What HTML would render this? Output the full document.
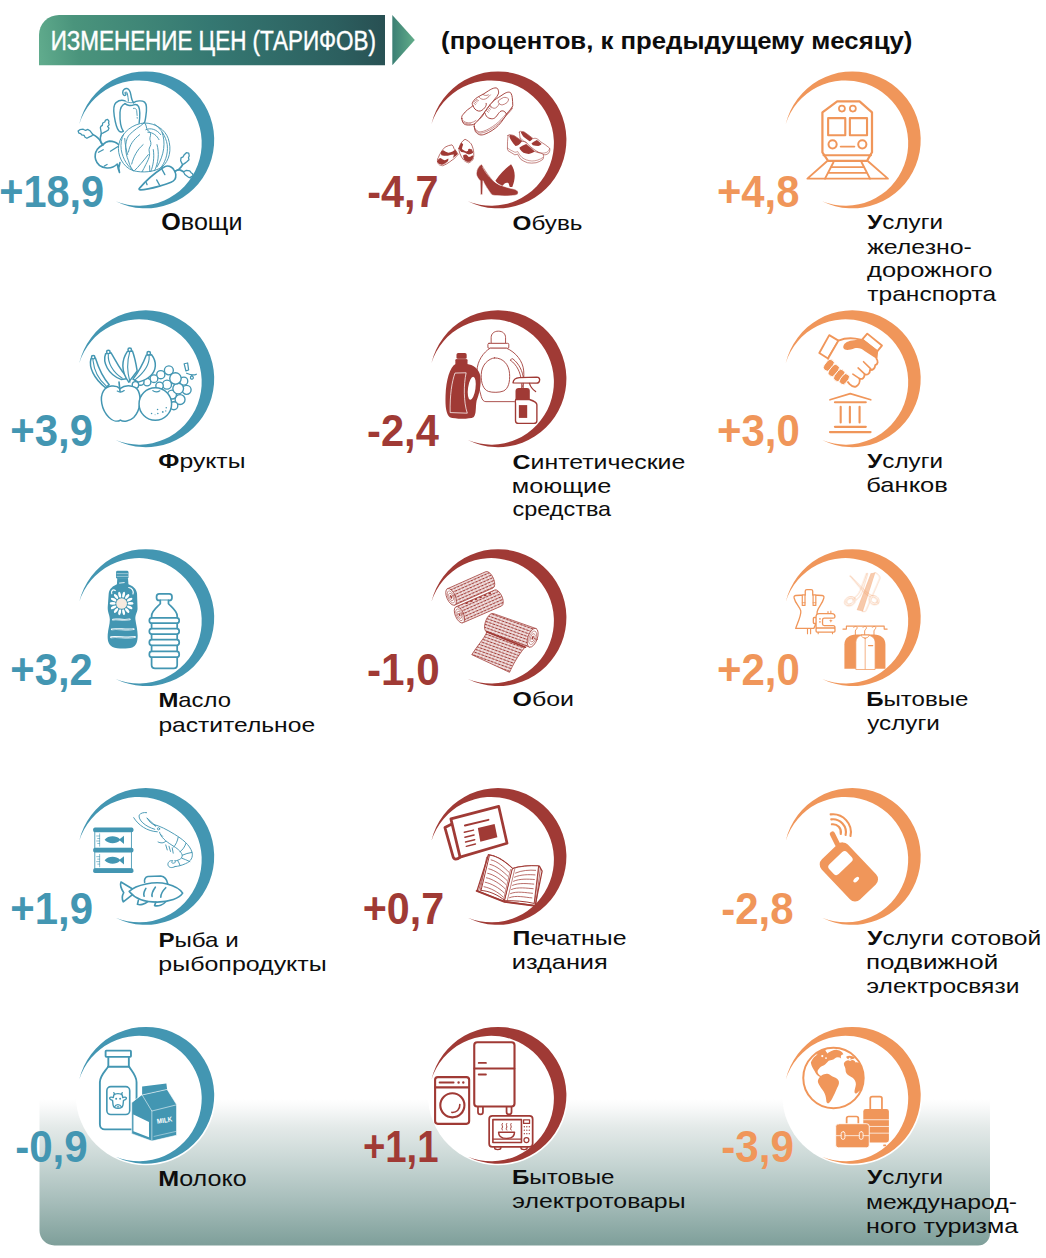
<!DOCTYPE html>
<html lang="ru"><head><meta charset="utf-8"><title>Изменение цен (тарифов)</title>
<style>
html,body{margin:0;padding:0;background:#fff;}
body{width:1046px;height:1258px;overflow:hidden;font-family:"Liberation Sans",sans-serif;}
svg{display:block;}
text{font-family:"Liberation Sans",sans-serif;}
.num{font-weight:bold;}
.lab{fill:#0d0d0d;}
.b{font-weight:bold;}
</style></head><body>
<svg width="1046" height="1258" viewBox="0 0 1046 1258">
<defs>
<linearGradient id="hdr" gradientUnits="userSpaceOnUse" x1="39" y1="70" x2="385" y2="10"><stop offset="0" stop-color="#62ad8e"/><stop offset="0.12" stop-color="#4a947c"/><stop offset="0.5" stop-color="#357872"/><stop offset="0.85" stop-color="#2c5f5f"/><stop offset="1" stop-color="#284f52"/></linearGradient>
<linearGradient id="arr" x1="0" y1="0" x2="1" y2="0"><stop offset="0" stop-color="#3b7f74"/><stop offset="1" stop-color="#62ad8a"/></linearGradient>
<linearGradient id="bot" x1="0" y1="0" x2="0" y2="1"><stop offset="0" stop-color="#ffffff"/><stop offset="0.06" stop-color="#f8f9f9"/><stop offset="0.19" stop-color="#e4eae9"/><stop offset="0.45" stop-color="#c5d4d2"/><stop offset="0.71" stop-color="#a5bcb9"/><stop offset="0.97" stop-color="#82a29d"/><stop offset="1" stop-color="#7f9f9a"/></linearGradient>
</defs>
<rect width="1046" height="1258" fill="#fff"/>
<path d="M39.5 1099 H990 V1233.5 a12 12 0 0 1 -12 12 H54.5 a15 15 0 0 1 -15 -15 Z" fill="url(#bot)"/>
<path d="M39 65.2 V35 a20 20 0 0 1 20 -20 H385 V65.2 Z" fill="url(#hdr)"/>
<path d="M392.3 15 L414.8 40.1 L392.3 65.2 Z" fill="url(#arr)"/>
<text x="50.66" y="49.6" font-size="27" fill="#fff" stroke="#fff" stroke-width="0.45" textLength="325.32" lengthAdjust="spacingAndGlyphs">ИЗМЕНЕНИЕ ЦЕН (ТАРИФОВ)</text>
<text x="441.12" y="49.1" font-size="24.2" font-weight="bold" fill="#0d0d0d" textLength="471.26" lengthAdjust="spacingAndGlyphs">(процентов, к предыдущему месяцу)</text>
<g id="cell-0-0">
<path fill="#4396b2" d="M79.26 124.08 A68.4 68.4 0 1 1 115.58 201.26 A62.7 62.7 0 1 0 79.26 124.08 Z"/>
<g class="icon">
<g transform="translate(75,80) scale(0.124285)" fill="none" stroke="#4396b2" stroke-linecap="round" stroke-linejoin="round">
<!-- pepper -->
<g stroke-width="11.5">
<path d="M472 182 C458 168 454 150 450 122 C446 96 440 72 418 68 C400 66 384 80 384 100 C384 118 396 128 406 122 C414 116 410 102 402 104" />
<path d="M430 170 C428 150 426 130 422 112 C420 100 414 92 408 96" stroke-width="8"/>
<path d="M402 168 C380 160 350 166 330 182 C308 202 308 240 316 290 C324 340 336 390 352 408 C364 420 380 420 388 412"/>
<path d="M402 190 C380 200 364 222 362 262 C360 320 366 380 388 412"/>
<path d="M402 190 C420 206 452 210 472 200 C488 194 504 200 512 214 C524 240 522 300 516 348"/>
<path d="M472 182 C492 166 540 162 560 178 C580 196 578 240 570 290 C566 320 562 340 556 350"/>
<path d="M402 168 C412 180 440 186 472 182" stroke-width="7"/>
<path d="M470 228 C486 226 494 232 496 246 L500 286 M500 300 L501 308" stroke-width="7"/>
</g>
<!-- cabbage -->
<g stroke-width="7.5">
<path d="M556 346 C470 350 372 420 352 520 C338 600 380 700 470 730 C540 748 640 742 700 700 C760 650 780 560 750 470 C724 400 650 345 556 346 Z" fill="#fff"/>
<path d="M556 346 C520 380 470 400 430 450 C400 500 400 580 430 650 C440 690 456 716 470 730"/>
<path d="M470 730 C430 700 384 640 372 560 C366 520 372 470 392 436"/>
<path d="M400 470 C404 520 410 560 424 600"/>
<path d="M520 440 C470 480 440 520 430 580"/>
<path d="M548 520 C500 560 470 620 456 676"/>
<path d="M590 600 C550 650 510 700 480 728"/>
<path d="M566 352 C580 380 572 400 590 410 C610 420 612 440 604 460 C596 484 616 496 610 520 C604 540 590 552 598 580 C606 610 590 640 570 680 C560 700 548 724 540 738"/>
<path d="M570 400 C610 380 660 400 690 440"/>
<path d="M586 420 C630 420 660 450 676 480"/>
<path d="M640 356 C690 390 730 450 742 520 C752 600 720 670 690 706"/>
<path d="M700 420 C730 500 720 600 660 700"/>
<path d="M630 560 C640 620 630 690 610 736"/>
<path d="M660 520 C680 590 670 670 640 730"/>
<path d="M600 690 L602 736"/>
</g>
<!-- radish -->
<g stroke-width="13">
<path d="M350 519 C330 500 300 492 277 492 C255 494 236 508 223 523 C205 530 190 544 178 560 C162 584 158 612 166 640 C176 676 210 704 256 708 C290 710 320 696 340 676 C344 700 350 724 358 744 C350 720 352 690 362 664" />
<path d="M189 581 L227 561 M285 573 L346 535 M236 692 L258 680" stroke-width="10.5"/>
<path d="M143 438 C170 450 196 474 208 496 C214 506 220 514 223 523"/>
<path d="M212 431 C204 450 202 474 206 494 C210 506 216 516 223 523"/>
<path d="M143 438 L123 411 L104 398 L85 406 L66 396 L39 400 L25 411 L31 427 L46 431 L54 442 L73 446 L81 461 L96 469 L116 458 L135 450 Z" stroke-width="10.5"/>
<path d="M212 431 L204 384 L208 373 L220 365 L223 346 L239 338 L246 323 L262 317 L273 331 L270 346 L275 361 L262 373 L273 388 L266 404 L246 415 L223 427 Z" stroke-width="10.5"/>
</g>
<!-- carrot -->
<g stroke-width="13">
<path d="M518 872 C560 822 640 750 704 708 C716 700 730 692 742 692 C754 692 764 694 773 700 C784 706 792 714 796 723 C804 736 810 748 811 761 C812 776 810 790 803 800 C796 812 786 818 773 823 C744 834 712 844 680 854 C630 868 570 884 528 884 C516 884 512 878 518 872 Z" fill="#fff"/>
<path d="M700 719 L723 761 M657 804 L680 846 M574 826 L580 842" stroke-width="10.5"/>
<path d="M803 735 C816 728 826 724 834 719 C848 708 858 696 865 684"/>
<path d="M803 735 C818 726 832 722 842 723 C854 726 864 732 873 738"/>
<path d="M865 681 L850 650 L853 627 L869 619 L877 604 L896 585 L915 588 L919 611 L913 623 L917 642 L900 658 L880 673 Z" stroke-width="10.5"/>
<path d="M873 738 L896 727 L923 731 L934 746 L946 754 L950 773 L934 777 L930 788 L911 781 L900 773 L884 761 Z" stroke-width="10.5"/>
</g>
</g>

</g>
<text class="num" x="-0.74" y="206.8" font-size="44.0" fill="#4396b2" textLength="104.78" lengthAdjust="spacingAndGlyphs">+18,9</text>
<text class="lab" x="161.37" y="230.4" font-size="23.0" textLength="81.16" lengthAdjust="spacingAndGlyphs"><tspan class="b">О</tspan>вощи</text>
</g>
<g id="cell-0-1">
<path fill="#4396b2" d="M79.26 362.93 A68.4 68.4 0 1 1 115.58 440.11 A62.7 62.7 0 1 0 79.26 362.93 Z"/>
<g class="icon">
<g transform="translate(80,320) scale(0.124285)" fill="#fff" stroke="#4396b2" stroke-width="12" stroke-linecap="round" stroke-linejoin="round">
<!-- grapes -->
<g stroke-width="11">
<circle cx="835" cy="492" r="32"/><circle cx="858" cy="562" r="36"/>
<circle cx="715" cy="405" r="36"/><circle cx="650" cy="440" r="33"/><circle cx="595" cy="472" r="31"/>
<circle cx="540" cy="500" r="30"/><circle cx="486" cy="496" r="29"/><circle cx="446" cy="522" r="26"/>
<circle cx="700" cy="520" r="36"/><circle cx="640" cy="530" r="30"/>
<circle cx="805" cy="640" r="40"/><circle cx="755" cy="690" r="32"/>
<circle cx="740" cy="600" r="36"/>
<circle cx="790" cy="552" r="43"/><circle cx="768" cy="470" r="46"/>
<path d="M838 352 L866 346 L874 402 L852 410 Z" stroke-width="10"/>
<path d="M858 428 C888 442 918 446 936 436 M898 446 C882 458 888 480 904 476 C916 472 914 456 902 452" fill="none" stroke-width="10"/>
</g>
<!-- bananas -->
<path d="M88 312 C70 380 110 470 205 545 L235 520 C190 470 150 390 124 306 Z"/>
<path d="M104 322 C112 400 150 480 212 532" fill="none" stroke-width="9"/>
<circle cx="106" cy="300" r="14"/>
<path d="M206 272 C180 340 226 440 330 478 L390 470 C330 420 290 330 250 264 Z"/>
<path d="M228 278 C222 340 262 420 340 468" fill="none" stroke-width="9"/>
<circle cx="228" cy="258" r="14"/>
<path d="M380 254 C336 320 326 410 392 500 L460 410 C452 360 440 300 422 250 Z"/>
<path d="M400 258 C378 330 380 420 402 500" fill="none" stroke-width="9"/>
<circle cx="400" cy="240" r="14"/>
<path d="M534 282 C504 360 470 420 426 476 L470 500 C540 480 600 440 606 370 C608 340 596 306 576 280 Z"/>
<path d="M556 288 C562 350 520 420 440 484" fill="none" stroke-width="9"/>
<circle cx="553" cy="268" r="14"/>
<!-- apple -->
<path d="M322 552 C290 520 218 522 188 572 C158 622 170 722 232 782 C262 812 300 822 325 805 C350 822 400 815 432 785 C486 730 496 630 470 572 C450 525 368 516 322 552 Z"/>
<path d="M322 575 L314 500" fill="none" stroke-width="13"/>
<path d="M300 572 C315 582 340 580 356 568" fill="none" stroke-width="10"/>
<!-- orange -->
<circle cx="606" cy="676" r="131"/>
<path d="M586 568 C600 582 626 582 642 570" fill="none" stroke-width="10"/>
<g fill="#4396b2" stroke="none"><circle cx="576" cy="752" r="6"/><circle cx="624" cy="720" r="6"/><circle cx="626" cy="752" r="6"/><circle cx="666" cy="740" r="7"/><circle cx="694" cy="706" r="6"/><circle cx="690" cy="732" r="5"/><circle cx="604" cy="762" r="4"/></g>
</g>

</g>
<text class="num" x="10.34" y="445.5" font-size="44.0" fill="#4396b2" textLength="82.71" lengthAdjust="spacingAndGlyphs">+3,9</text>
<text class="lab" x="158.34" y="468.3" font-size="20.6" textLength="87.07" lengthAdjust="spacingAndGlyphs"><tspan class="b">Ф</tspan>рукты</text>
</g>
<g id="cell-0-2">
<path fill="#4396b2" d="M79.26 601.78 A68.4 68.4 0 1 1 115.58 678.96 A62.7 62.7 0 1 0 79.26 601.78 Z"/>
<g class="icon">
<g transform="translate(80,555) scale(0.124285)" stroke-linecap="round" stroke-linejoin="round">
<!-- filled bottle -->
<g fill="#4396b2" stroke="none">
<rect x="290" y="126" width="100" height="66" rx="12"/>
<path d="M300 188 L386 188 L390 236 C424 250 454 270 459 310 L463 430 C463 462 441 482 446 520 C451 560 464 600 464 650 C464 702 450 732 420 744 C380 757 300 757 262 740 C230 724 220 690 223 640 C226 590 240 560 240 520 C240 482 221 462 223 420 L231 310 C235 270 268 250 297 236 Z"/>
</g>
<g fill="#fff" stroke="none"><ellipse cx="407.0" cy="390.0" rx="24" ry="11" transform="rotate(0.0 407.0 390.0)"/><ellipse cx="399.9" cy="421.2" rx="24" ry="11" transform="rotate(25.7 399.9 421.2)"/><ellipse cx="379.9" cy="446.3" rx="24" ry="11" transform="rotate(51.4 379.9 446.3)"/><ellipse cx="351.0" cy="460.2" rx="24" ry="11" transform="rotate(77.1 351.0 460.2)"/><ellipse cx="319.0" cy="460.2" rx="24" ry="11" transform="rotate(102.9 319.0 460.2)"/><ellipse cx="290.1" cy="446.3" rx="24" ry="11" transform="rotate(128.6 290.1 446.3)"/><ellipse cx="270.1" cy="421.2" rx="24" ry="11" transform="rotate(154.3 270.1 421.2)"/><ellipse cx="263.0" cy="390.0" rx="24" ry="11" transform="rotate(180.0 263.0 390.0)"/><ellipse cx="270.1" cy="358.8" rx="24" ry="11" transform="rotate(205.7 270.1 358.8)"/><ellipse cx="290.1" cy="333.7" rx="24" ry="11" transform="rotate(231.4 290.1 333.7)"/><ellipse cx="319.0" cy="319.8" rx="24" ry="11" transform="rotate(257.1 319.0 319.8)"/><ellipse cx="351.0" cy="319.8" rx="24" ry="11" transform="rotate(282.9 351.0 319.8)"/><ellipse cx="379.9" cy="333.7" rx="24" ry="11" transform="rotate(308.6 379.9 333.7)"/><ellipse cx="399.9" cy="358.8" rx="24" ry="11" transform="rotate(334.3 399.9 358.8)"/></g>
<circle cx="335" cy="390" r="43" fill="#f8eadf"/>
<g fill="none" stroke="#fff" stroke-width="9">
<path d="M298 150 L384 150 M298 172 L384 172" stroke-width="5" stroke="#cfe3ea"/>
<path d="M318 226 L356 222" stroke-width="7"/>
<path d="M256 312 C248 290 264 272 284 286"/>
<path d="M392 262 C420 266 434 290 426 314"/>
<path d="M266 520 C300 510 340 530 400 518" stroke-width="15"/>
<path d="M256 598 C300 590 380 606 432 596" stroke-width="15"/>
<path d="M250 662 C300 654 380 672 442 660" stroke-width="15"/>
</g>
<g fill="none" stroke="#4396b2" stroke-width="4">
<path d="M270 522 C300 514 340 532 396 520"/><path d="M262 600 C300 594 380 608 426 598"/><path d="M256 664 C300 658 380 674 436 662"/>
</g>
<!-- outline bottle -->
<g fill="#fff" stroke="#4396b2" stroke-width="14">
<rect x="616" y="313" width="124" height="52" rx="22"/>
<path d="M646 366 L646 392 C620 420 576 450 576 490 L576 885 C576 902 588 912 604 912 L754 912 C770 912 782 902 782 885 L782 490 C782 450 738 420 712 392 L712 366"/>
<rect x="558" y="505" width="240" height="44" rx="20"/>
<rect x="558" y="592" width="240" height="44" rx="20"/>
<rect x="558" y="681" width="240" height="46" rx="20"/>
<rect x="558" y="776" width="240" height="46" rx="20"/>
</g>
</g>
</g>
<text class="num" x="10.35" y="684.7" font-size="44.0" fill="#4396b2" textLength="82.32" lengthAdjust="spacingAndGlyphs">+3,2</text>
<text class="lab" x="158.40" y="707.3" font-size="20.6" textLength="72.61" lengthAdjust="spacingAndGlyphs"><tspan class="b">М</tspan>асло</text>
<text class="lab" x="158.43" y="731.6" font-size="20.6" textLength="156.66" lengthAdjust="spacingAndGlyphs">растительное</text>
</g>
<g id="cell-0-3">
<path fill="#4396b2" d="M79.26 840.63 A68.4 68.4 0 1 1 115.58 917.81 A62.7 62.7 0 1 0 79.26 840.63 Z"/>
<g class="icon">
<g transform="translate(80,795) scale(0.124285)" stroke-linecap="round" stroke-linejoin="round">
<!-- cans -->
<g fill="none" stroke="#4396b2" stroke-width="7">
<rect x="122" y="290" width="292" height="140"/><rect x="122" y="455" width="292" height="140"/>
<path d="M158 312 V412 M134 330 H158 M142 350 H158 M134 370 H158 M142 390 H158 M158 478 V578 M134 496 H158 M142 516 H158 M134 536 H158 M142 556 H158" stroke-width="5"/>
</g>
<g fill="#4396b2" stroke="none">
<rect x="106" y="261" width="324" height="38" rx="14"/><rect x="106" y="425" width="324" height="38" rx="14"/><rect x="106" y="590" width="324" height="38" rx="14"/>
<path d="M198 360 C226 324 292 324 320 354 L354 328 L354 394 L320 366 C292 396 226 396 198 360 Z"/>
<path d="M198 525 C226 489 292 489 320 519 L354 493 L354 559 L320 531 C292 561 226 561 198 525 Z"/>
</g>
<!-- shrimp -->
<g fill="none" stroke="#4396b2" stroke-width="7.5">
<path d="M432 182 C470 244 540 292 622 296"/>
<path d="M536 142 C510 138 488 146 476 162 C468 200 520 252 602 276"/>
<path d="M540 186 L612 252 L568 222 Z"/>
<path d="M596 238 C640 248 700 278 760 316 C820 352 884 400 902 462 C910 500 894 534 850 552 C820 566 790 574 764 576"/>
<path d="M640 300 C650 340 690 372 740 404 C780 428 812 452 822 482 C826 508 800 526 764 530"/>
<circle cx="632" cy="272" r="9"/>
<path d="M650 318 L664 332 M628 378 C650 388 672 390 690 372"/>
<path d="M790 340 C784 372 772 400 752 420 M852 390 C842 420 826 440 806 456 M900 462 C874 466 846 474 824 484 M884 536 C862 526 838 514 818 508 M806 568 C800 552 794 540 786 528"/>
<path d="M690 402 L702 442 M716 412 L728 454 M742 426 L750 468"/>
<path d="M764 576 C740 590 714 586 708 564 C704 544 720 524 746 528 C734 540 736 556 762 546 C768 540 770 534 764 530"/>
</g>
<!-- fish -->
<g fill="none" stroke="#4396b2" stroke-width="13">
<path d="M396 776 C450 722 600 690 700 716 C760 732 808 760 826 790 C800 832 720 860 620 862 C520 862 440 830 396 776 Z"/>
<path d="M420 754 L330 700 C320 722 336 762 352 786 C338 810 338 840 348 860 L420 804"/>
<path d="M520 702 C514 680 526 660 546 656 L650 652 C680 656 700 682 706 716"/>
<path d="M470 846 L462 880 C482 888 520 880 546 858 M610 862 L600 890 C630 896 670 886 690 858"/>
<path d="M530 752 C516 776 510 800 516 814 M606 742 C586 770 576 800 580 816 M690 746 C666 770 650 800 650 822"/>
</g>
</g>

</g>
<text class="num" x="10.34" y="923.6" font-size="44.0" fill="#4396b2" textLength="82.71" lengthAdjust="spacingAndGlyphs">+1,9</text>
<text class="lab" x="158.40" y="946.8" font-size="20.6" textLength="80.26" lengthAdjust="spacingAndGlyphs"><tspan class="b">Р</tspan>ыба и</text>
<text class="lab" x="158.39" y="970.7" font-size="20.6" textLength="168.33" lengthAdjust="spacingAndGlyphs">рыбопродукты</text>
</g>
<g id="cell-0-4">
<circle cx="145.8" cy="1095.3" r="70" fill="#fff"/>
<path fill="#4396b2" d="M79.26 1079.48 A68.4 68.4 0 1 1 115.58 1156.66 A62.7 62.7 0 1 0 79.26 1079.48 Z"/>
<g class="icon">
<g transform="translate(80,1030) scale(0.124285)" stroke-linecap="round" stroke-linejoin="round">
<g fill="none" stroke="#4396b2" stroke-width="15">
<rect x="206" y="166" width="204" height="50" rx="6"/>
<path d="M228 216 V290 C214 322 160 362 160 420 V760 C160 785 178 800 200 800 H415 C440 800 455 785 455 760 V420 C455 362 406 322 393 290 V216"/>
<path d="M226 296 H395"/>
<rect x="216" y="456" width="184" height="224" rx="32" stroke-width="13"/>
<path d="M272 522 C280 508 330 508 340 522 L344 544 C378 530 386 560 350 566 L346 602 C340 640 272 640 266 602 L262 566 C226 560 234 530 268 544 Z" stroke-width="11"/>
<path d="M276 622 C290 594 320 594 336 622 M300 618 L312 618" stroke-width="10"/>
<path d="M280 520 L272 504 M332 520 L340 504" stroke-width="10"/>
</g>
<g fill="#4396b2" stroke="none"><circle cx="291" cy="553" r="8"/><circle cx="323" cy="553" r="8"/></g>
<!-- carton -->
<g fill="#4396b2" stroke="#fff" stroke-width="5">
<path d="M500 520 L700 476 L777 600 L777 847 L578 894 L416 834 L416 586 Z"/>
</g>
<path d="M500 455 L695 431 L701 478 L500 523 Z" fill="#4396b2"/>
<g fill="none" stroke="#fff" stroke-width="4.5">
<path d="M500 523 L578 652 L777 602 M578 652 V892 M500 523 L701 478" />
<path d="M596 856 L772 816" stroke-width="3.5"/>
</g>
<path d="M430 680 L555 740 L555 862 L430 815 Z" fill="#fff"/>
<text x="680" y="745" font-size="56" font-weight="bold" fill="#fff" text-anchor="middle" font-family="'Liberation Sans', sans-serif" transform="rotate(-9 680 728)" textLength="124" lengthAdjust="spacingAndGlyphs">MILK</text>
</g>

</g>
<text class="num" x="15.15" y="1161.5" font-size="44.0" fill="#4396b2" textLength="72.61" lengthAdjust="spacingAndGlyphs">-0,9</text>
<text class="lab" x="158.32" y="1185.6" font-size="22.5" textLength="88.33" lengthAdjust="spacingAndGlyphs"><tspan class="b">М</tspan>олоко</text>
</g>
<g id="cell-1-0">
<path fill="#a03a35" d="M431.46 124.08 A68.4 68.4 0 1 1 467.78 201.26 A62.7 62.7 0 1 0 431.46 124.08 Z"/>
<g class="icon">
<g transform="translate(430,75) scale(0.124285)" stroke-linecap="round" stroke-linejoin="round">
<!-- men's shoes (outline) -->
<g fill="#fff" stroke="#a03a35" stroke-width="7.5">
<path d="M256 351 C252 336 258 326 266 318 C276 304 290 290 302 280 C318 268 336 256 346 246 C338 236 338 226 344 218 C350 206 358 198 366 191 C374 184 384 178 392 174 C404 166 416 160 426 156 C442 146 456 136 472 126 C488 116 506 106 522 104 C536 102 546 108 548 118 C552 130 554 142 550 152 C544 166 534 180 522 192 L372 386 C356 396 342 402 326 402 C306 404 288 402 276 396 C266 388 258 370 256 351 Z"/>
<path d="M260 362 C272 380 300 388 330 384 C346 380 360 374 370 366 M258 372 C270 390 300 396 328 394" fill="none" stroke-width="4.5"/>
<path d="M346 246 C352 268 366 284 390 290 C410 294 426 280 440 264 C450 250 456 240 452 228" fill="none"/>
<path d="M392 174 C400 186 412 196 430 196 C450 196 470 180 486 160 M426 156 C438 166 452 168 470 160" fill="none" stroke-width="5"/>
<path d="M366 204 L380 214 M374 196 L390 206 M358 214 L372 226 M352 226 L366 238" fill="none" stroke-width="5"/>
<path d="M356 416 C352 400 360 388 376 376 C392 362 408 346 422 330 C430 318 436 306 442 296 C454 276 468 258 482 240 C494 226 508 212 522 200 C532 192 542 186 552 180 C566 170 582 160 596 151 C608 144 620 138 632 138 C644 138 650 142 652 148 C658 158 660 170 662 182 C664 204 666 226 666 246 C662 258 656 268 650 276 C640 290 628 304 616 316 C608 330 600 344 590 356 C578 374 566 390 550 406 C536 420 520 434 500 446 C482 458 462 468 442 476 C428 482 414 484 400 481 C386 476 374 468 366 456 C360 444 358 430 356 416 Z"/>
<path d="M360 426 C368 444 384 456 402 458 C436 456 470 436 502 416 C536 394 566 366 592 336 C618 308 644 282 662 256" fill="none" stroke-width="4.5"/>
<path d="M362 438 C372 456 388 466 404 468 C438 466 472 448 504 428 C538 406 568 378 594 348 C620 320 646 294 664 268" fill="none" stroke-width="4.5"/>
<path d="M442 306 C448 326 458 340 472 346 C486 352 500 354 512 350 C524 346 534 334 542 322 C552 308 560 296 572 290 C584 286 594 290 602 296 C608 302 612 310 616 316" fill="none"/>
<path d="M552 206 C564 196 578 186 592 181 C606 178 622 182 632 192 C632 204 628 214 620 222 C608 232 594 238 580 241 C568 240 558 234 552 226 Z" fill="none" stroke-width="5"/>
<path d="M482 240 C490 256 500 266 516 268 C532 268 548 252 556 232" fill="none" stroke-width="5"/>
<path d="M470 262 L486 276 M462 274 L478 288 M454 286 L470 300 M478 250 L494 262" fill="none" stroke-width="5"/>
</g>
<!-- baby shoes -->
<g fill="#fff" stroke="#a03a35" stroke-width="6">
<path d="M60 695 C58 680 62 670 67 665 C72 650 80 636 87 625 C96 608 108 592 122 580 C140 570 160 564 177 562 C186 568 190 580 192 590 C206 604 218 622 227 640 C206 664 182 684 157 700 C140 712 122 724 102 730 C88 730 78 726 72 720 C64 712 60 704 60 695 Z"/>
<path d="M232 590 C236 574 244 558 252 545 C260 534 270 524 282 517 C302 526 320 540 332 555 C344 578 350 602 352 625 C354 644 352 660 347 675 C338 690 326 700 312 707 C296 704 282 696 272 685 C258 670 248 652 242 635 C236 620 232 604 232 590 Z"/>
</g>
<g fill="#a03a35" stroke="none">
<path d="M62 685 C68 676 74 670 82 667 C94 672 106 682 117 685 C128 684 138 678 147 672 C150 684 146 694 140 700 C128 712 114 720 102 725 C88 724 76 718 67 710 C62 702 60 694 62 685 Z"/>
<path d="M87 620 C92 612 100 606 107 605 C120 612 134 622 147 625 C160 624 172 620 182 615 C190 612 198 606 202 600 C212 612 218 626 222 640 C210 652 196 662 182 670 C188 660 192 650 192 640 C180 640 168 642 157 645 C148 648 140 650 132 650 C118 650 104 648 92 645 C88 636 86 628 87 620 Z"/>
<path d="M267 645 C276 640 284 638 292 640 C300 646 306 654 312 660 C324 658 334 652 342 645 C348 654 352 664 350 675 C340 690 326 700 312 705 C298 702 286 694 277 685 C270 672 266 658 267 645 Z"/>
<path d="M232 590 C236 574 244 558 252 545 C258 548 264 554 267 560 C262 572 258 584 257 595 C268 604 280 612 292 615 C306 612 320 604 332 595 C340 604 346 614 347 625 C336 632 324 638 312 640 C300 636 290 630 282 625 C272 624 262 622 252 620 C244 612 236 602 232 590 Z"/>
<circle cx="118" cy="634" r="12"/><circle cx="318" cy="606" r="12"/>
</g>
<g fill="none" stroke="#fff" stroke-width="4" stroke-dasharray="7 6"><path d="M70 716 C84 726 100 726 116 716 C150 696 190 668 222 644"/><path d="M276 688 C290 700 306 704 320 700 C336 692 346 680 350 664"/></g>
<!-- mary jane shoes -->
<g fill="#fff" stroke="#a03a35" stroke-width="5">
<path d="M720 459 C724 454 728 452 734 454 C744 454 752 456 760 460 C784 476 808 494 830 512 C840 508 852 508 862 514 C872 520 882 528 888 536 C914 552 940 568 962 588 C966 602 964 616 957 626 C948 636 936 642 924 642 C900 640 880 630 862 616 L740 530 C730 522 724 514 725 507 C722 492 720 474 720 459 Z"/>
<path d="M628 486 C632 480 638 478 644 480 C656 482 668 484 678 488 C700 502 722 518 742 534 C752 534 764 536 774 542 C794 562 812 584 830 604 C836 608 840 612 844 616 C866 624 888 628 903 631 C910 638 914 646 914 654 C914 664 912 672 908 679 C892 692 874 700 854 706 C830 710 806 710 784 706 C764 698 746 690 731 679 C720 666 712 650 704 636 C696 640 690 642 682 642 C664 632 646 620 628 609 C624 602 622 594 623 588 C622 554 624 520 628 486 Z"/>
<path d="M623 588 C640 600 662 612 684 622 C694 620 700 618 706 616 C716 634 726 652 740 664 C760 680 790 690 820 692 C850 692 884 682 908 664" fill="none" stroke-width="4"/>
<path d="M725 507 C740 520 760 536 780 548 M862 616 C884 630 910 634 940 622 C950 616 958 606 962 594" fill="none" stroke-width="4"/>
</g>
<g fill="#a03a35" stroke="none">
<path d="M731 459 C740 456 750 456 758 459 C782 476 806 494 828 513 C820 522 810 530 801 534 C784 522 768 508 752 496 C742 484 734 472 731 459 Z"/>
<path d="M817 550 C830 540 846 530 860 523 C874 532 888 544 898 556 C890 564 880 570 871 572 C856 572 842 570 828 566 C822 562 818 556 817 550 Z"/>
<path d="M642 483 C654 482 666 484 677 488 C700 502 722 518 741 534 C732 546 720 558 709 566 C702 570 694 572 688 572 C676 558 664 544 655 529 C648 518 642 506 639 496 C638 490 640 486 642 483 Z"/>
<path d="M720 583 C738 572 756 562 774 556 C794 572 812 588 828 604 C834 608 840 612 844 615 C828 624 812 632 795 636 C780 634 766 630 752 626 C742 618 732 608 725 599 C722 594 720 588 720 583 Z"/>
</g>
<!-- high heels -->
<g fill="#a03a35" stroke="none">
<path d="M526 850 C560 800 610 750 652 718 C684 760 694 822 662 902 L642 902 L632 870 C612 860 592 876 582 896 C560 886 540 870 526 850 Z"/>
<path d="M374 780 C380 750 400 724 416 718 C440 760 480 820 520 860 C560 890 620 906 682 920 C712 930 716 950 700 964 C650 976 560 976 500 966 C470 930 440 880 426 850 L422 962 L407 964 L404 850 C384 830 368 806 374 780 Z" stroke="#fff" stroke-width="4"/>
</g>
<path d="M424 742 C452 800 500 852 566 888" fill="none" stroke="#fff" stroke-width="4"/>
</g>

</g>
<text class="num" x="367.28" y="206.8" font-size="44.0" fill="#a03a35" textLength="71.34" lengthAdjust="spacingAndGlyphs">-4,7</text>
<text class="lab" x="512.61" y="229.9" font-size="20.6" textLength="69.87" lengthAdjust="spacingAndGlyphs"><tspan class="b">О</tspan>бувь</text>
</g>
<g id="cell-1-1">
<path fill="#a03a35" d="M431.46 362.93 A68.4 68.4 0 1 1 467.78 440.11 A62.7 62.7 0 1 0 431.46 362.93 Z"/>
<g class="icon">
<g transform="translate(430,315) scale(0.124285)" stroke-linecap="round" stroke-linejoin="round">
<!-- big outline bottle -->
<g fill="#fff" stroke="#a03a35" stroke-width="7">
<path d="M492 226 V182 C492 150 516 130 550 130 C584 130 608 150 608 182 V226 Z"/>
<rect x="466" y="228" width="168" height="40" rx="9"/>
<path d="M482 268 C430 300 380 370 378 450 C376 530 400 610 412 655 C420 685 432 697 450 697 H680 C700 697 712 685 720 655 C740 600 760 530 754 450 C748 370 690 300 618 268 Z"/>
<path d="M520 345 C470 350 415 400 412 480 C410 550 430 600 470 615 C500 625 560 625 590 612 C630 595 645 540 640 470 C635 400 590 345 520 345 Z"/>
<path d="M648 364 C700 402 728 462 734 524 M648 364 C652 352 660 348 668 354 C716 392 746 452 752 512" fill="none"/>
</g>
<!-- filled bottle -->
<g fill="#a03a35" stroke="none">
<rect x="213" y="305" width="82" height="50" rx="14"/>
<rect x="204" y="354" width="98" height="44" rx="10"/>
<path d="M205 395 C160 420 130 520 125 650 C122 740 130 800 160 822 C200 838 320 838 350 822 C375 800 365 740 375 690 C395 640 415 560 405 490 C395 430 340 400 300 395 Z"/>
</g>
<path d="M214 353 H294" stroke="#fff" stroke-width="3" fill="none" opacity="0.7"/>
<path d="M200 470 C175 540 160 640 162 785 L300 790 C270 700 270 560 290 468 Z" fill="none" stroke="#fff" stroke-width="6"/>
<ellipse cx="336" cy="590" rx="30" ry="93" fill="#fff" transform="rotate(8 336 590)"/>
<!-- spray bottle -->
<g fill="#fff" stroke="#a03a35" stroke-width="11">
<path d="M668 546 C670 520 690 506 720 504 L858 500 C878 500 886 514 881 530 C878 544 866 550 850 548 Z"/>
<path d="M800 550 C810 582 830 602 850 616" fill="none" stroke-width="10"/>
<path d="M736 552 V590 M752 552 V590" fill="none" stroke-width="6"/>
<path d="M690 680 C685 690 685 700 688 712 V850 C688 865 698 872 712 872 H835 C850 872 860 865 860 850 V722 C860 700 830 690 800 680 Z"/>
</g>
<g fill="#a03a35" stroke="none">
<path d="M688 684 V612 C688 596 698 588 714 588 H780 C796 588 803 596 803 612 V684 Z"/>
<rect x="715" y="725" width="67" height="103"/>
</g>
</g>

</g>
<text class="num" x="367.07" y="445.5" font-size="44.0" fill="#a03a35" textLength="71.75" lengthAdjust="spacingAndGlyphs">-2,4</text>
<text class="lab" x="512.59" y="468.7" font-size="20.6" textLength="172.71" lengthAdjust="spacingAndGlyphs"><tspan class="b">С</tspan>интетические</text>
<text class="lab" x="511.85" y="492.6" font-size="20.6" textLength="99.48" lengthAdjust="spacingAndGlyphs">моющие</text>
<text class="lab" x="512.61" y="516.2" font-size="20.6" textLength="98.49" lengthAdjust="spacingAndGlyphs">средства</text>
</g>
<g id="cell-1-2">
<path fill="#a03a35" d="M431.46 601.78 A68.4 68.4 0 1 1 467.78 678.96 A62.7 62.7 0 1 0 431.46 601.78 Z"/>
<g class="icon">
<g transform="translate(430,555) scale(0.124285)" stroke-linecap="round" stroke-linejoin="round">
<defs>
<pattern id="wpA" patternUnits="userSpaceOnUse" width="30" height="24" patternTransform="rotate(-24)"><rect width="30" height="24" fill="#fff"/><path d="M0 0 H30 M0 0 V24" stroke="#a03a35" stroke-width="2.5" fill="none"/><path d="M7 12 H23" stroke="#a03a35" stroke-width="10" fill="none"/></pattern>
<pattern id="wpC" patternUnits="userSpaceOnUse" width="30" height="24" patternTransform="rotate(20)"><rect width="30" height="24" fill="#fff"/><path d="M0 0 H30 M0 0 V24" stroke="#a03a35" stroke-width="2.5" fill="none"/><path d="M7 12 H23" stroke="#a03a35" stroke-width="10" fill="none"/></pattern>
</defs>
<path d="M140.7 271.2 L448.7 134.2 A34.6 72 -24.0 0 1 507.3 265.8 L199.3 402.8 Z" fill="url(#wpA)" stroke="#a03a35" stroke-width="6"/>
<ellipse cx="170" cy="337" rx="34.6" ry="72.0" transform="rotate(-24.0 170 337)" fill="#fff" stroke="#a03a35" stroke-width="6"/>
<ellipse cx="170" cy="337" rx="24.9" ry="51.8" transform="rotate(-24.0 170 337)" fill="#fff" stroke="#a03a35" stroke-width="4"/>
<ellipse cx="170" cy="337" rx="15.6" ry="32.4" transform="rotate(-24.0 170 337)" fill="#fff" stroke="#a03a35" stroke-width="4"/>
<ellipse cx="170" cy="337" rx="6.9" ry="15.8" transform="rotate(-24.0 170 337)" fill="#a03a35"/>
<path d="M209.1 416.8 L520.1 281.8 A33.6 70 -23.5 0 1 575.9 410.2 L264.9 545.2 Z" fill="url(#wpA)" stroke="#a03a35" stroke-width="6"/>
<ellipse cx="237" cy="481" rx="33.6" ry="70.0" transform="rotate(-23.5 237 481)" fill="#fff" stroke="#a03a35" stroke-width="6"/>
<ellipse cx="237" cy="481" rx="24.2" ry="50.4" transform="rotate(-23.5 237 481)" fill="#fff" stroke="#a03a35" stroke-width="4"/>
<ellipse cx="237" cy="481" rx="15.1" ry="31.5" transform="rotate(-23.5 237 481)" fill="#fff" stroke="#a03a35" stroke-width="4"/>
<ellipse cx="237" cy="481" rx="6.7" ry="15.4" transform="rotate(-23.5 237 481)" fill="#a03a35"/>
<path d="M292 388 L502 300" stroke="#a03a35" stroke-width="13" stroke-dasharray="10 30" fill="none"/>
<path d="M458 622 C430 680 380 730 336 802 L640 944 C670 880 700 820 762 744 Z" fill="url(#wpC)" stroke="#a03a35" stroke-width="6"/>
<path d="M852.2 591.5 L508.2 470.5 A37.9 79 19.4 0 0 455.8 619.5 L799.8 740.5 Z" fill="url(#wpC)" stroke="#a03a35" stroke-width="6"/>
<ellipse cx="826" cy="666" rx="37.9" ry="79.0" transform="rotate(19.4 826 666)" fill="#fff" stroke="#a03a35" stroke-width="6"/>
<ellipse cx="826" cy="666" rx="27.3" ry="56.9" transform="rotate(19.4 826 666)" fill="#fff" stroke="#a03a35" stroke-width="4"/>
<ellipse cx="826" cy="666" rx="17.1" ry="35.6" transform="rotate(19.4 826 666)" fill="#fff" stroke="#a03a35" stroke-width="4"/>
<ellipse cx="826" cy="666" rx="7.6" ry="17.4" transform="rotate(19.4 826 666)" fill="#a03a35"/>
<path d="M456 618 L768 742" stroke="#a03a35" stroke-width="13" fill="none"/>
</g>
</g>
<text class="num" x="367.05" y="684.7" font-size="44.0" fill="#a03a35" textLength="72.78" lengthAdjust="spacingAndGlyphs">-1,0</text>
<text class="lab" x="512.58" y="705.8" font-size="20.6" textLength="61.45" lengthAdjust="spacingAndGlyphs"><tspan class="b">О</tspan>бои</text>
</g>
<g id="cell-1-3">
<path fill="#a03a35" d="M431.46 840.63 A68.4 68.4 0 1 1 467.78 917.81 A62.7 62.7 0 1 0 431.46 840.63 Z"/>
<g class="icon">
<g transform="translate(430,795) scale(0.124285)" stroke-linecap="round" stroke-linejoin="round">
<!-- newspaper -->
<g fill="#fff" stroke="#a03a35" stroke-width="22">
<path d="M172 236 L120 262 L186 498 C192 520 216 522 242 500"/>
<path d="M168 192 L553 92 L620 388 L242 500 Z"/>
</g>
<path d="M281 246 L470 200" stroke="#a03a35" stroke-width="16" fill="none"/>
<path d="M276 300 L350 282 M281 340 L355 322 M286 378 L360 360 M292 413 L366 394" stroke="#a03a35" stroke-width="11" fill="none"/>
<path d="M385 266 L520 234 L542 340 L405 376 Z" fill="#a03a35"/>
<!-- book -->
<g fill="#fff" stroke="#a03a35" stroke-width="8">
<path d="M470 480 L378 772 L600 858 L846 890 L902 612 L880 572 C800 566 720 572 665 592 C610 540 540 490 470 480 Z" stroke-width="10"/>
<path d="M468 492 L392 766 M456 500 L404 770" fill="none" stroke-width="6"/>
<path d="M888 590 L852 882 M876 580 L842 876" fill="none" stroke-width="6"/>
<path d="M482 484 C540 490 610 540 665 592 L602 850 C545 800 470 772 414 768 Z"/>
<path d="M665 592 C720 572 800 566 874 570 L838 872 C760 854 680 850 602 850 Z"/>
<path d="M648 600 L590 850 M682 596 L622 850" fill="none" stroke-width="5"/>
</g>
<g fill="none" stroke="#a03a35" stroke-width="6">
<path d="M492 522 C542 532 596 582 636 622"/>
<path d="M482 558 C532 568 588 615 628 655"/>
<path d="M473 594 C523 604 580 648 620 688"/>
<path d="M464 630 C514 640 572 681 612 721"/>
<path d="M454 666 C504 676 564 714 604 754"/>
<path d="M444 702 C494 712 556 747 596 787"/>
<path d="M435 738 C485 748 548 780 588 820"/>
<path d="M688 628 C738 606 800 602 850 606"/>
<path d="M680 661 C730 639 795 639 845 643"/>
<path d="M672 694 C722 672 790 676 840 680"/>
<path d="M664 727 C714 705 785 713 835 717"/>
<path d="M656 760 C706 738 780 750 830 754"/>
<path d="M648 793 C698 771 775 787 825 791"/>
<path d="M640 826 C690 804 770 824 820 828"/>
</g>
<path d="M376 772 L600 860 L846 892" fill="none" stroke="#a03a35" stroke-width="16"/>
</g>
</g>
<text class="num" x="362.77" y="923.6" font-size="44.0" fill="#a03a35" textLength="81.34" lengthAdjust="spacingAndGlyphs">+0,7</text>
<text class="lab" x="512.55" y="945.2" font-size="20.6" textLength="114.04" lengthAdjust="spacingAndGlyphs"><tspan class="b">П</tspan>ечатные</text>
<text class="lab" x="511.85" y="969.3" font-size="20.6" textLength="95.89" lengthAdjust="spacingAndGlyphs">издания</text>
</g>
<g id="cell-1-4">
<circle cx="498.0" cy="1095.3" r="70" fill="#fff"/>
<path fill="#a03a35" d="M431.46 1079.48 A68.4 68.4 0 1 1 467.78 1156.66 A62.7 62.7 0 1 0 431.46 1079.48 Z"/>
<g class="icon">
<g transform="translate(430,1030) scale(0.124285)" stroke-linecap="round" stroke-linejoin="round">
<g fill="#fff" stroke="#a03a35" stroke-width="17">
<path d="M386 612 V660 C386 686 426 686 426 660 V612 M616 612 V660 C616 686 656 686 656 660 V612" stroke-width="14"/>
<rect x="356" y="99" width="324" height="516" rx="24"/>
<path d="M358 310 H678"/>
<path d="M392 265 H450 M392 358 H450" stroke-width="15"/>
<rect x="41" y="379" width="274" height="376" rx="22"/>
<path d="M43 462 H313"/>
<path d="M77 422 H190" stroke-width="15"/>
<circle cx="180" cy="606" r="97"/>
<path d="M240 600 C242 640 212 666 176 663" fill="none" stroke-width="13"/>
</g>
<g fill="#a03a35" stroke="none"><circle cx="230" cy="422" r="9.5"/><circle cx="268" cy="422" r="9.5"/></g>
<g fill="#fff" stroke="#a03a35" stroke-width="14">
<path d="M520 938 V950 C520 966 570 966 570 950 V938 M732 938 V950 C732 966 782 966 782 950 V938" stroke-width="11"/>
<rect x="476" y="691" width="350" height="250" rx="26"/>
<rect x="506" y="721" width="230" height="184" stroke-width="13"/>
<path d="M508 878 H734" stroke-width="11"/>
<path d="M552 822 H680 C680 860 650 872 616 872 C582 872 552 860 552 822 Z" stroke-width="12"/>
<g fill="none" stroke-width="8"><path d="M582 752 C570 764 592 776 580 790 C574 798 578 802 584 804"/><path d="M617 752 C605 764 627 776 615 790 C609 798 613 802 619 804"/><path d="M652 752 C640 764 662 776 650 790 C644 798 648 802 654 804"/></g>
<rect x="753" y="723" width="48" height="29" stroke-width="10"/>
<circle cx="776" cy="886" r="20" stroke-width="10"/>
</g>
<g fill="#a03a35" stroke="none"><circle cx="759" cy="778" r="5.5"/><circle cx="759" cy="806" r="5.5"/><circle cx="759" cy="834" r="5.5"/><circle cx="779" cy="778" r="5.5"/><circle cx="779" cy="806" r="5.5"/><circle cx="779" cy="834" r="5.5"/><circle cx="799" cy="778" r="5.5"/><circle cx="799" cy="806" r="5.5"/><circle cx="799" cy="834" r="5.5"/></g>
</g>
</g>
<text class="num" x="362.89" y="1161.5" font-size="44.0" fill="#a03a35" textLength="75.68" lengthAdjust="spacingAndGlyphs">+1,1</text>
<text class="lab" x="511.99" y="1184.3" font-size="20.6" textLength="102.48" lengthAdjust="spacingAndGlyphs"><tspan class="b">Б</tspan>ытовые</text>
<text class="lab" x="512.34" y="1208.2" font-size="20.6" textLength="173.17" lengthAdjust="spacingAndGlyphs">электротовары</text>
</g>
<g id="cell-2-0">
<path fill="#f0965a" d="M785.76 124.08 A68.4 68.4 0 1 1 822.08 201.26 A62.7 62.7 0 1 0 785.76 124.08 Z"/>
<g class="icon">
<g transform="translate(785,75) scale(0.124285)" stroke-linecap="round" stroke-linejoin="round" fill="none" stroke="#f0965a" stroke-width="18">
<path d="M420 212 H600 L700 300 V622 L660 690 H346 L301 622 V300 Z" fill="#fff"/>
<path d="M310 646 H692" stroke-width="16"/>
<circle cx="458" cy="270" r="24" stroke-width="14"/><circle cx="546" cy="270" r="24" stroke-width="14"/>
<rect x="347" y="347" width="138" height="138" stroke-width="17"/><rect x="522" y="347" width="138" height="138" stroke-width="17"/>
<circle cx="383" cy="558" r="33" stroke-width="16"/><circle cx="622" cy="558" r="33" stroke-width="16"/>
<path d="M448 576 H558" stroke-width="15"/>
<g stroke-width="15">
<path d="M338 694 L180 834 H828 L668 694"/>
<path d="M390 702 L322 834 M616 702 L684 834"/>
<path d="M374 741 H632 M352 787 H654"/>
</g>
</g>

</g>
<text class="num" x="716.95" y="206.8" font-size="44.0" fill="#f0965a" textLength="82.44" lengthAdjust="spacingAndGlyphs">+4,8</text>
<text class="lab" x="867.29" y="229.2" font-size="20.6" textLength="75.79" lengthAdjust="spacingAndGlyphs"><tspan class="b">У</tspan>слуги</text>
<text class="lab" x="867.22" y="253.7" font-size="20.6" textLength="104.67" lengthAdjust="spacingAndGlyphs">железно-</text>
<text class="lab" x="867.05" y="277.2" font-size="20.6" textLength="125.31" lengthAdjust="spacingAndGlyphs">дорожного</text>
<text class="lab" x="867.38" y="300.9" font-size="20.6" textLength="128.82" lengthAdjust="spacingAndGlyphs">транспорта</text>
</g>
<g id="cell-2-1">
<path fill="#f0965a" d="M785.76 362.93 A68.4 68.4 0 1 1 822.08 440.11 A62.7 62.7 0 1 0 785.76 362.93 Z"/>
<g class="icon">
<g transform="translate(785,315) scale(0.124285)" stroke-linecap="round" stroke-linejoin="round">
<!-- bank -->
<g fill="none" stroke="#f0965a">
<path d="M362 682 L525 632 L690 682" stroke-width="14"/>
<path d="M402 702 H650" stroke-width="17"/>
<path d="M448 738 V864 M522 738 V864 M600 738 V864" stroke-width="17"/>
<path d="M402 900 H650" stroke-width="18"/>
<path d="M362 942 H688" stroke-width="18"/>
</g>
<!-- handshake -->
<g fill="#fff" stroke="#f0965a" stroke-width="15">
<path d="M356 162 L430 206 L346 350 L276 306 Z"/>
<path d="M662 150 L780 246 L742 292 L622 196 Z"/>
<!-- right hand fingers outline -->
<path d="M430 206 C470 190 520 184 566 190 L620 200 L742 292 L736 352 C752 372 748 396 726 404 C724 430 706 446 684 442 C684 470 664 486 640 478 C640 506 622 520 600 512 C606 540 592 566 570 576 C552 582 536 572 520 556 L346 350 Z"/>
<path d="M632 376 L690 434 M588 426 L642 476 M546 476 L600 512" fill="none" stroke-width="13"/>
</g>
<g fill="#f0965a" stroke="none">
<path d="M470 250 C476 226 510 206 556 204 L612 196 L742 292 L736 352 L640 290 C620 270 590 262 560 268 C530 280 500 284 482 278 C470 272 466 262 470 250 Z"/>
<g stroke="#fff" stroke-width="7"><rect x="-30" y="-52" width="60" height="104" rx="30" transform="translate(352,404) rotate(38)"/>
<rect x="-30" y="-54" width="60" height="108" rx="30" transform="translate(392,446) rotate(38)"/>
<rect x="-30" y="-54" width="60" height="108" rx="30" transform="translate(436,486) rotate(38)"/>
<rect x="-28" y="-48" width="56" height="96" rx="28" transform="translate(478,516) rotate(38)"/></g>
</g>
</g>

</g>
<text class="num" x="716.94" y="445.5" font-size="44.0" fill="#f0965a" textLength="82.89" lengthAdjust="spacingAndGlyphs">+3,0</text>
<text class="lab" x="867.29" y="468.2" font-size="20.6" textLength="75.79" lengthAdjust="spacingAndGlyphs"><tspan class="b">У</tspan>слуги</text>
<text class="lab" x="866.31" y="491.8" font-size="20.6" textLength="81.60" lengthAdjust="spacingAndGlyphs">банков</text>
</g>
<g id="cell-2-2">
<path fill="#f0965a" d="M785.76 601.78 A68.4 68.4 0 1 1 822.08 678.96 A62.7 62.7 0 1 0 785.76 601.78 Z"/>
<g class="icon">
<g transform="translate(785,555) scale(0.124285)" stroke-linecap="round" stroke-linejoin="round">
<!-- mannequin -->
<g fill="#fff" stroke="#f0965a" stroke-width="10.5">
<path d="M181 591 V634 M206 591 V634" stroke-width="9"/>
<path d="M163 290 C163 282 168 278 176 278 H210 C218 278 223 282 223 290 V322 L300 326 C312 328 316 336 312 348 C302 392 266 420 259 455 C256 480 262 540 232 591 H86 C104 540 132 482 127 449 C120 418 84 392 74 348 C70 336 74 328 86 326 L163 322 Z"/>
<rect x="139" y="322" width="22" height="84" stroke-width="9.5"/><rect x="226" y="322" width="22" height="84" stroke-width="9.5"/>
<path d="M139 384 H161 M226 384 H248" stroke-width="7"/>
</g>
<!-- sewing machine -->
<g fill="#fff" stroke="#f0965a" stroke-width="10.5">
<path d="M267 620 V634 M382 620 V634 M346 472 V456 M369 472 V452" stroke-width="9"/>
<rect x="228" y="503" width="26" height="48" rx="7"/>
<path d="M250 588 V496 C250 480 260 472 276 472 H378 C394 472 402 482 402 496 C402 504 396 508 388 508 H316 C306 508 302 514 302 522 V556 C302 564 306 568 316 568 H388 C396 568 402 574 402 584 V588 Z"/>
<rect x="250" y="588" width="152" height="32" rx="8"/>
</g>
<g fill="#f0965a" stroke="none"><rect x="275" y="508" width="12" height="12"/><rect x="275" y="532" width="12" height="12"/><path d="M369 516 L374 526 L384 530 L374 534 L369 546 L364 534 L354 530 L364 526 Z"/></g>
<!-- comb + scissors -->
<path d="M690 146 L727 141 L627 455 L577 443 Z" fill="#f0965a" opacity="0.55"/>
<g fill="none" stroke="#f0965a" stroke-width="4" opacity="0.8">
<path d="M702 146 L594 446 M714 144 L610 452" stroke="#fff" stroke-width="3" opacity="0.6"/>
<path d="M722 140 C746 150 766 170 762 190 L650 450 C640 460 628 458 620 452"/>
<ellipse cx="523" cy="372" rx="46" ry="35" transform="rotate(-30 523 372)" fill="#fff"/>
<ellipse cx="523" cy="372" rx="31" ry="22" transform="rotate(-30 523 372)" fill="#fff"/>
<ellipse cx="716" cy="364" rx="42" ry="35" transform="rotate(35 716 364)" fill="#fff"/>
<ellipse cx="716" cy="364" rx="28" ry="22" transform="rotate(35 716 364)" fill="#fff"/>
<path d="M556 346 C580 330 596 306 606 282 L656 146 L664 150 L622 292 C612 320 596 344 572 362"/>
<path d="M686 336 C664 326 640 306 622 286 L522 166 L528 170 L632 276 C652 298 676 316 700 326"/>
</g>
<!-- clothes rack -->
<g fill="none" stroke="#f0965a" stroke-width="9">
<path d="M466 596 H494 V572 H798 V596 H822"/>
<path d="M553 582 C558 572 576 572 580 582 C584 594 566 600 566 612 V642 M628 582 C633 572 651 572 655 582 C659 594 641 600 641 612 V642 M703 582 C708 572 726 572 730 582 C734 594 716 600 716 612 V642" stroke-width="8"/>
</g>
<path d="M478 916 V720 C478 668 520 642 570 640 H716 C770 642 808 668 808 720 V916 Z" fill="#f0965a"/>
<g fill="#fff" stroke="#f0965a" stroke-width="6">
<path d="M570 918 V702 C570 672 590 652 615 646 L645 674 L675 646 C700 652 725 672 725 702 V918 Z"/>
<path d="M645 674 V916" fill="none"/>
<path d="M612 646 C618 676 672 676 678 646 Z" stroke-width="7"/>
<path d="M672 729 H706" fill="none" stroke-width="9"/>
</g>
</g>

</g>
<text class="num" x="716.94" y="684.7" font-size="44.0" fill="#f0965a" textLength="82.89" lengthAdjust="spacingAndGlyphs">+2,0</text>
<text class="lab" x="866.19" y="706.3" font-size="20.6" textLength="102.27" lengthAdjust="spacingAndGlyphs"><tspan class="b">Б</tspan>ытовые</text>
<text class="lab" x="867.24" y="730.3" font-size="20.6" textLength="72.53" lengthAdjust="spacingAndGlyphs">услуги</text>
</g>
<g id="cell-2-3">
<path fill="#f0965a" d="M785.76 840.63 A68.4 68.4 0 1 1 822.08 917.81 A62.7 62.7 0 1 0 785.76 840.63 Z"/>
<g class="icon">
<g transform="translate(785,795) scale(0.124285)" stroke-linecap="round" stroke-linejoin="round">
<path d="M367.3 156.1 A145 145 0 0 1 526.8 330.1 M372.2 195.8 A105 105 0 0 1 487.7 321.8 M377.1 235.5 A65 65 0 0 1 448.6 313.5" fill="none" stroke="#f0965a" stroke-width="17"/>
<path d="M422 396 L382 314" stroke="#f0965a" stroke-width="42" fill="none"/>
<g transform="translate(513.75,618.75) rotate(-43.5)">
<rect x="-145" y="-223" width="290" height="446" rx="58" fill="#f0965a"/>
<rect x="-99" y="-152" width="198" height="108" rx="28" fill="#fff"/>
<ellipse cx="0" cy="86" rx="28" ry="15" fill="#fff"/>
</g>
</g>
</g>
<text class="num" x="721.26" y="923.6" font-size="44.0" fill="#f0965a" textLength="72.33" lengthAdjust="spacingAndGlyphs">-2,8</text>
<text class="lab" x="867.29" y="944.5" font-size="20.6" textLength="173.90" lengthAdjust="spacingAndGlyphs"><tspan class="b">У</tspan>слуги сотовой</text>
<text class="lab" x="866.01" y="969.0" font-size="20.6" textLength="132.19" lengthAdjust="spacingAndGlyphs">подвижной</text>
<text class="lab" x="866.64" y="992.7" font-size="20.6" textLength="152.75" lengthAdjust="spacingAndGlyphs">электросвязи</text>
</g>
<g id="cell-2-4">
<circle cx="852.3" cy="1095.3" r="70" fill="#fff"/>
<path fill="#f0965a" d="M785.76 1079.48 A68.4 68.4 0 1 1 822.08 1156.66 A62.7 62.7 0 1 0 785.76 1079.48 Z"/>
<g class="icon">
<g transform="translate(785,1030) scale(0.124285)" stroke-linecap="round" stroke-linejoin="round">
<circle cx="390" cy="386" r="243" fill="#fff" stroke="#f0965a" stroke-width="16"/>
<clipPath id="globeclip"><circle cx="390" cy="386" r="243"/></clipPath>
<g fill="#f0965a" stroke="none" clip-path="url(#globeclip)">
<path d="M250 200 C262 176 290 156 320 150 L340 196 Z"/>
<path d="M568 262 C600 250 640 300 650 340 L650 420 C640 470 610 480 590 496 Z"/>
<path d="M208 262 C222 222 262 190 300 178 C318 168 340 170 336 192 C360 172 392 158 420 160 C446 162 464 176 470 196 C452 198 444 212 452 230 C436 216 414 216 400 230 C388 246 362 238 346 254 C328 270 322 286 300 290 C282 294 276 314 264 324 C258 340 266 354 282 366 C300 376 318 372 330 360 C322 376 300 384 282 378 C262 372 248 352 238 330 C224 308 212 290 208 262 Z"/>
<path d="M266 402 C278 374 308 350 340 352 C362 356 372 372 392 378 C412 384 430 396 434 416 C438 440 422 458 414 478 C404 500 396 520 386 540 C376 562 364 582 350 590 C340 594 332 582 332 566 C330 540 324 516 312 496 C298 474 282 456 272 436 C266 424 262 412 266 402 Z"/>
<path d="M476 264 C488 246 508 238 524 250 C540 236 562 242 568 262 C592 270 612 290 624 316 C636 346 640 380 632 412 C624 442 608 472 590 496 C580 510 564 518 560 502 C556 484 568 462 570 440 C572 416 560 396 544 384 C526 372 506 366 494 348 C484 332 490 314 482 298 C476 286 470 276 476 264 Z"/>
<path d="M494 214 C512 200 542 206 566 224 C550 236 526 240 506 234 C498 230 492 222 494 214 Z"/>
</g>
<g fill="#fff" stroke="none"><circle cx="520" cy="232" r="8"/><circle cx="300" cy="210" r="9"/><circle cx="330" cy="226" r="7"/></g>
<!-- tall suitcase -->
<path d="M686 640 V552 C686 540 692 536 702 536 H764 C774 536 780 540 780 552 V640" fill="none" stroke="#f0965a" stroke-width="14"/>
<rect x="630" y="636" width="206" height="270" rx="20" fill="#f0965a"/>
<path d="M632 722 H834 M632 776 H834 M632 830 H834" stroke="#fff" stroke-width="6" fill="none"/>
<rect x="790" y="922" width="24" height="14" rx="5" fill="#f0965a"/>
<!-- briefcase -->
<path d="M496 760 V712 C496 700 502 696 512 696 H574 C584 696 590 700 590 712 V760" fill="none" stroke="#f0965a" stroke-width="14"/>
<rect x="408" y="754" width="270" height="194" rx="22" fill="#f0965a" stroke="#fff" stroke-width="7"/>
<path d="M412 850 H674" stroke="#fff" stroke-width="6" fill="none"/>
<rect x="452" y="818" width="30" height="62" rx="15" fill="#f0965a" stroke="#fff" stroke-width="7"/>
<rect x="598" y="818" width="30" height="62" rx="15" fill="#f0965a" stroke="#fff" stroke-width="7"/>
</g>

</g>
<text class="num" x="721.25" y="1161.5" font-size="44.0" fill="#f0965a" textLength="72.61" lengthAdjust="spacingAndGlyphs">-3,9</text>
<text class="lab" x="867.29" y="1184.3" font-size="20.6" textLength="75.79" lengthAdjust="spacingAndGlyphs"><tspan class="b">У</tspan>слуги</text>
<text class="lab" x="866.09" y="1208.9" font-size="20.6" textLength="150.90" lengthAdjust="spacingAndGlyphs">международ-</text>
<text class="lab" x="866.07" y="1232.5" font-size="20.6" textLength="152.13" lengthAdjust="spacingAndGlyphs">ного туризма</text>
</g>
</svg>
</body></html>
